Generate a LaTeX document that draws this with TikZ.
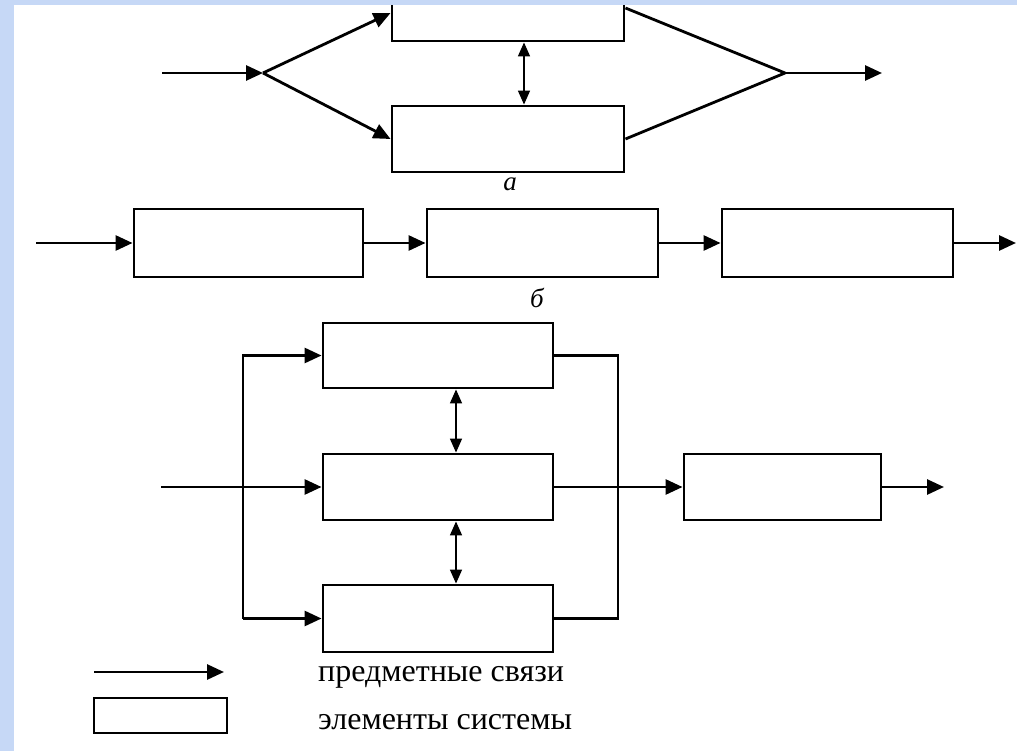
\documentclass[tikz,border=0pt]{standalone}
\usepackage{fontspec}
\setmainfont{Liberation Serif}
\usetikzlibrary{arrows.meta,calc}
\definecolor{bgblue}{RGB}{198,216,246}
\begin{document}
\begin{tikzpicture}[x=1pt,y=-1pt,
  elem/.style={draw,line width=2.9pt,fill=white,inner sep=0pt,minimum height=66pt},
  arr/.style={line width=2.8pt,-{Triangle[length=17pt,width=15pt]}},
  link/.style={line width=2.8pt},
  dbl/.style={line width=1.6pt,{Triangle[length=14pt,width=12pt]}-{Triangle[length=14pt,width=12pt]}},
  lbl/.style={font=\fontsize{27}{29}\selectfont\itshape,inner sep=0pt},
  legtext/.style={font=\fontsize{32}{35}\selectfont,anchor=west,inner sep=0pt}]
\useasboundingbox (0,0) rectangle (1017,751);
\fill[white] (0,0) rectangle (1017,751);
% ---- a ----
\node[elem,minimum width=232pt] (a1) at (508,8) {};
\node[elem,minimum width=232pt] (a2) at (508,139) {};
\coordinate (ain) at (162,73);
\coordinate (split) at (263,73);
\coordinate (merge) at (785,73);
\coordinate (aout) at (882,73);
\draw[arr] (ain) -- (split);
\draw[arr] (split) -- ([yshift=-5pt]a1.west);
\draw[arr] (split) -- (a2.west);
\draw[link] (a1.east) -- (merge);
\draw[link] (a2.east) -- (merge);
\draw[arr] (merge) -- (aout);
\draw[dbl] ([xshift=16pt]a1.south) -- ([xshift=16pt]a2.north);
\node[lbl] (la) at (510,184) {а};
% ---- b ----
\node[elem,minimum width=229pt,minimum height=68pt] (b1) at (248.5,243) {};
\node[elem,minimum width=231pt,minimum height=68pt] (b2) at (542.5,243) {};
\node[elem,minimum width=231pt,minimum height=68pt] (b3) at (837.5,243) {};
\coordinate (bin) at (36,243);
\coordinate (bout) at (1016,243);
\draw[arr] (bin) -- (b1.west);
\draw[arr] (b1.east) -- (b2.west);
\draw[arr] (b2.east) -- (b3.west);
\draw[arr] (b3.east) -- (bout);
\node[lbl] (lb) at (537,298) {б};
% ---- c ----
\node[elem,minimum width=230pt,minimum height=65pt] (c1) at (438,355.5) {};
\node[elem,minimum width=230pt] (c2) at (438,487) {};
\node[elem,minimum width=230pt,minimum height=67pt] (c3) at (438,618.5) {};
\node[elem,minimum width=197pt] (c4) at (782.5,487) {};
\coordinate (lbus) at (243,0);
\coordinate (rbus) at (618,0);
\coordinate (cin) at (161,487);
\coordinate (cout) at (944,487);
\draw[arr] (cin) -- (c2.west);
\draw[arr] (lbus |- c3.west) -- (lbus |- c1.west) -- (c1.west);
\draw[arr] (lbus |- c3.west) -- (c3.west);
\draw[link] (c1.east) -- (rbus |- c1.east) -- (rbus |- c3.east) -- (c3.east);
\draw[arr] (c2.east) -- (c4.west);
\draw[arr] (c4.east) -- (cout);
\draw[dbl] ([xshift=18pt]c1.south) -- ([xshift=18pt]c2.north);
\draw[dbl] ([xshift=18pt]c2.south) -- ([xshift=18pt]c3.north);
% ---- legend ----
\coordinate (legs) at (94,672);
\coordinate (lege) at (224,672);
\draw[arr] (legs) -- (lege);
\node[elem,minimum width=133pt,minimum height=35pt] (legbox) at (160.5,715.5) {};
\node[legtext] (t1) at (318,677) {предметные связи};
\node[legtext] (t2) at (318,722) {элементы системы};
% ---- blue frame ----
\fill[bgblue] (0,0) rectangle (14,751);
\fill[bgblue] (0,0) rectangle (1017,5);
\end{tikzpicture}
\end{document}
